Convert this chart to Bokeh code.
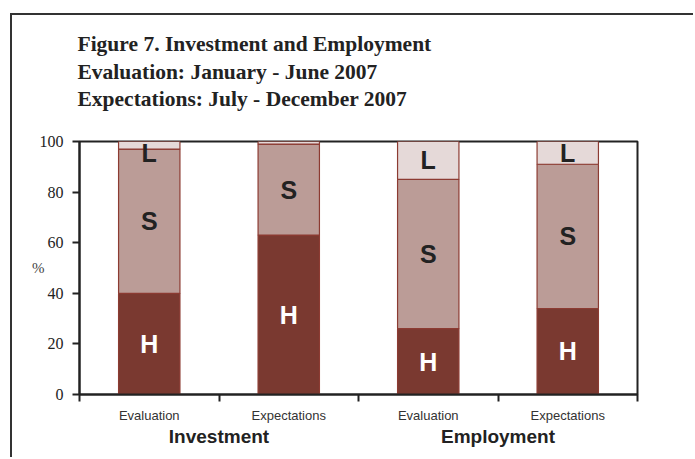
from bokeh.plotting import figure
from bokeh.models import (FactorRange, Range1d, ColumnDataSource, LinearAxis, CategoricalAxis,
                          FixedTicker, SingleIntervalTicker, Title)
from bokeh.core.properties import value
from bokeh.embed import file_html
from bokeh.resources import INLINE

# ---- data ----
groups = ["Investment", "Investment", "Employment", "Employment"]
periods = ["Evaluation", "Expectations", "Evaluation", "Expectations"]
H = [40, 63, 26, 34]
S = [57, 36, 59, 57]
L = [3, 1, 15, 9]
title_lines = ["Figure 7. Investment and Employment",
               "Evaluation: January - June 2007",
               "Expectations: July - December 2007"]

factors = list(zip(groups, periods))
src = ColumnDataSource(dict(x=factors, H=H, S=S, L=L))

c_H, c_S, c_L = "#7A3930", "#BB9C97", "#E5D9D8"
edge = "#8C3B32"

p = figure(width=683, height=444, output_backend="svg", toolbar_location=None,
           x_range=FactorRange(*factors, factor_padding=0, group_padding=0, range_padding=0),
           y_range=Range1d(0, 100), x_axis_location=None,
           min_border_left=67, min_border_right=58, min_border_top=126, min_border_bottom=65)
p.styles = {"margin-left": "10px", "margin-top": "13px",
            "border-left": "2px solid #333333", "border-top": "2px solid #333333"}
p.xgrid.visible = False
p.ygrid.visible = False
p.outline_line_color = "#222222"
p.outline_line_width = 2
p.background_fill_color = "white"
p.border_fill_color = "white"

p.vbar_stack(["H", "S", "L"], x="x", width=0.44, source=src,
             fill_color=[c_H, c_S, c_L], line_color=edge, line_width=1.2)

# segment labels
lx, ly, lt, lc = [], [], [], []
for f, h, s, l in zip(factors, H, S, L):
    lx.append(f); ly.append(h / 2); lt.append("H"); lc.append("white")
    lx.append(f); ly.append(h + s / 2); lt.append("S"); lc.append("#222222")
    if l >= 3:
        lx.append(f); ly.append(min(h + s + l / 2, 95.6)); lt.append("L"); lc.append("#222222")
lsrc = ColumnDataSource(dict(x=lx, y=ly, t=lt, c=lc))
p.text(x="x", y="y", text="t", source=lsrc, text_color="c", text_align="center",
       text_baseline="middle", text_font=value("Liberation Sans"), text_font_style="bold",
       text_font_size="25px")

# y axis
ya = p.yaxis[0]
ya.ticker = SingleIntervalTicker(interval=20)
ya.minor_tick_line_color = None
ya.major_tick_in = 0
ya.major_tick_out = 7
ya.major_tick_line_width = 2
ya.major_tick_line_color = "#222222"
ya.axis_line_width = 2
ya.axis_line_color = "#222222"
ya.major_label_standoff = 9
ya.major_label_text_font = "Liberation Serif"
ya.major_label_text_font_size = "16px"
ya.major_label_text_color = "#222222"
ya.axis_label = "%"
ya.axis_label_text_font = "Liberation Serif"
ya.axis_label_text_font_size = "15px"
ya.axis_label_text_font_style = "normal"
ya.axis_label_text_color = "#444444"
ya.axis_label_standoff = -8
if "axis_label_orientation" in ya.properties():
    ya.axis_label_orientation = "horizontal"

# boundary ticks axis (category boundaries in the factor range's synthetic coordinates)
ba = LinearAxis(ticker=FixedTicker(ticks=[0, 1, 2, 3, 4]))
ba.major_label_overrides = {0: "", 1: "", 2: "", 3: "", 4: ""}
ba.major_label_text_font_size = "0px"
ba.major_label_standoff = 0
ba.major_tick_in = 0
ba.major_tick_out = 7
ba.major_tick_line_width = 2
ba.major_tick_line_color = "#222222"
ba.minor_tick_line_color = None
ba.axis_line_width = 2
ba.axis_line_color = "#222222"
p.add_layout(ba, "below")

# category axis
ca = CategoricalAxis()
ca.axis_line_color = None
ca.major_tick_line_color = None
ca.minor_tick_line_color = None
ca.separator_line_color = None
ca.major_label_standoff = 0
ca.major_label_text_font = "Liberation Sans"
ca.major_label_text_font_size = "13px"
ca.major_label_text_color = "#333333"
ca.group_text_font = "Liberation Sans"
ca.group_text_font_size = "19px"
ca.group_text_font_style = "bold"
ca.group_text_color = "#222222"
p.add_layout(ca, "below")

# spacer between the title block and the plot frame, then the title block
p.add_layout(Title(text=" ", text_font_size="1px", standoff=27), "above")
p.add_layout(Title(text="\n".join(title_lines), align="left", offset=-2, standoff=0,
                   text_font="Liberation Serif", text_font_style="bold",
                   text_font_size="21.5px", text_color="#222222", text_line_height=1.15),
             "above")

open("out.html", "w").write(file_html(p, INLINE))
